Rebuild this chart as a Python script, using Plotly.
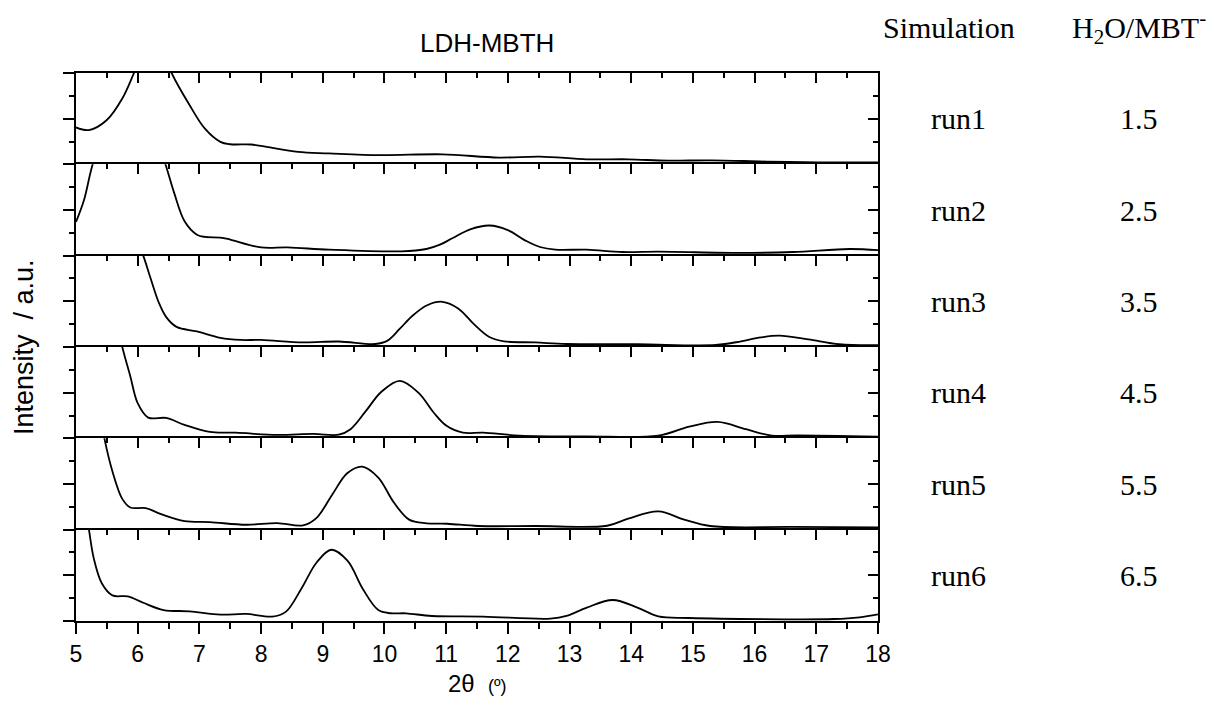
import plotly.graph_objects as go

# ---------------- data ----------------
runs = ["run1", "run2", "run3", "run4", "run5", "run6"]
ratios = ["1.5", "2.5", "3.5", "4.5", "5.5", "6.5"]
x_ticks = [5, 6, 7, 8, 9, 10, 11, 12, 13, 14, 15, 16, 17, 18]

x_run1 = [5.0, 5.21, 5.5, 5.75, 5.94, 6.25, 6.55, 6.84, 7.09, 7.34, 7.5, 7.84, 8.09, 8.6, 9.1,
          9.93, 10.94, 11.86, 12.52, 13.28, 13.95, 14.6, 15.3, 16.2, 17.04, 18.0]
y_run1 = [0.404, 0.375, 0.485, 0.72, 1.0, 1.5, 1.0, 0.65, 0.39, 0.246, 0.22, 0.217, 0.19, 0.136, 0.12,
          0.10, 0.11, 0.074, 0.085, 0.055, 0.055, 0.04, 0.044, 0.03, 0.022, 0.02]

x_run2 = [5.0, 5.13, 5.27, 5.85, 6.45, 6.59, 6.76, 6.96, 7.09, 7.34, 7.5, 8.0, 8.43, 9.1, 10.27,
          10.68, 10.9, 11.1, 11.4, 11.7, 12.0, 12.3, 12.52, 12.77, 13.28, 13.86, 14.44, 15.78,
          16.62, 17.54, 18.0]
y_run2 = [0.37, 0.61, 1.0, 2.2, 1.0, 0.69, 0.377, 0.23, 0.205, 0.198, 0.176, 0.09, 0.09, 0.066, 0.048,
          0.073, 0.12, 0.19, 0.29, 0.33, 0.28, 0.16, 0.095, 0.066, 0.066, 0.04, 0.044, 0.03,
          0.04, 0.073, 0.06]

x_run3 = [5.0, 5.5, 5.8, 6.09, 6.21, 6.34, 6.46, 6.63, 6.96, 7.34, 7.67, 8.0, 8.68, 9.26, 9.85,
          10.05, 10.25, 10.45, 10.7, 10.94, 11.2, 11.45, 11.7, 11.94, 12.44, 12.95, 14.1, 15.37,
          15.78, 16.1, 16.4, 16.87, 17.37, 18.0]
y_run3 = [4.0, 2.5, 1.5, 1.0, 0.75, 0.49, 0.33, 0.22, 0.17, 0.10, 0.077, 0.077, 0.05, 0.06, 0.033,
          0.07, 0.2, 0.34, 0.46, 0.495, 0.42, 0.25, 0.11, 0.062, 0.05, 0.033, 0.03, 0.022,
          0.062, 0.105, 0.125, 0.084, 0.03, 0.02]

x_run4 = [5.0, 5.4, 5.75, 5.88, 6.0, 6.17, 6.46, 6.76, 7.17, 7.59, 8.26, 8.85, 9.26, 9.45, 9.7,
          9.95, 10.25, 10.55, 10.8, 11.0, 11.27, 11.6, 12.19, 13.28, 14.44, 14.94, 15.4, 15.86,
          16.28, 16.7, 18.0]
y_run4 = [3.5, 2.0, 1.0, 0.68, 0.385, 0.227, 0.223, 0.147, 0.07, 0.062, 0.037, 0.048, 0.04, 0.1, 0.3,
          0.51, 0.63, 0.5, 0.28, 0.14, 0.062, 0.062, 0.03, 0.022, 0.03, 0.128, 0.18, 0.1,
          0.03, 0.033, 0.018]

x_run5 = [5.0, 5.2, 5.46, 5.59, 5.75, 5.88, 6.13, 6.38, 6.76, 7.17, 7.76, 8.26, 8.68, 8.9, 9.15,
          9.4, 9.64, 9.9, 10.15, 10.4, 10.68, 11.02, 11.52, 12.44, 13.61, 13.95, 14.44, 14.86,
          15.28, 16.62, 18.0]
y_run5 = [3.0, 2.0, 1.0, 0.64, 0.337, 0.243, 0.236, 0.17, 0.094, 0.083, 0.054, 0.072, 0.047, 0.13, 0.38,
          0.62, 0.69, 0.57, 0.3, 0.11, 0.07, 0.065, 0.04, 0.04, 0.043, 0.12, 0.2, 0.11,
          0.04, 0.03, 0.025]

x_run6 = [5.0, 5.21, 5.29, 5.42, 5.59, 5.84, 6.09, 6.42, 6.84, 7.34, 7.76, 8.18, 8.4, 8.65, 8.9,
          9.14, 9.4, 9.65, 9.9, 10.1, 10.35, 10.77, 11.6, 12.69, 12.95, 13.28, 13.7, 14.1, 14.44,
          14.94, 17.29, 17.7, 18.0]
y_run6 = [2.0, 1.0, 0.68, 0.41, 0.28, 0.27, 0.2, 0.12, 0.106, 0.07, 0.077, 0.048, 0.1, 0.35, 0.64,
          0.78, 0.66, 0.35, 0.12, 0.085, 0.084, 0.055, 0.048, 0.026, 0.055, 0.147, 0.23, 0.147, 0.05,
          0.033, 0.022, 0.04, 0.073]

xs = [x_run1, x_run2, x_run3, x_run4, x_run5, x_run6]
ys = [y_run1, y_run2, y_run3, y_run4, y_run5, y_run6]

# ---------------- layout helpers ----------------
W, H = 1212, 702
L, R, T, B = 76, 878, 73, 621
N = 6


def px(xp):
    return (xp - L) / (R - L)


def py(yp):
    return (B - yp) / (B - T)


SANS = "Liberation Sans, Arial, sans-serif"
SERIF = "Liberation Serif, Times New Roman, serif"

fig = go.Figure()
layout = dict(
    width=W, height=H,
    margin=dict(l=L, r=W - R, t=T, b=H - B, pad=0),
    paper_bgcolor="white", plot_bgcolor="white",
    showlegend=False,
    font=dict(family=SANS, color="black", size=20),
)

LW = 2
for i in range(N):
    k = i + 1
    d0 = 1 - (i + 1) / N
    d1 = 1 - i / N
    fig.add_trace(go.Scatter(
        x=xs[i], y=ys[i], mode="lines",
        line=dict(color="black", width=1.8, shape="spline", smoothing=1.0),
        xaxis=f"x{k}", yaxis=f"y{k}", hoverinfo="skip"))
    # helper (empty) trace for the right-hand inward ticks
    fig.add_trace(go.Scatter(x=[], y=[], xaxis=f"x{k}", yaxis=f"y{k + N}"))

    xa = dict(range=[5, 18], domain=[0, 1], anchor=f"y{k}", showgrid=False, zeroline=False,
              showline=True, linecolor="black", linewidth=LW, mirror=False,
              tickmode="array", tickvals=x_ticks, ticktext=[str(v) for v in x_ticks],
              tickcolor="black", tickwidth=2)
    if k < N:
        xa.update(side="top", ticks="inside", ticklen=10, showticklabels=False,
                  minor=dict(ticks="inside", ticklen=5, dtick=0.5, tick0=5, tickwidth=2,
                             tickcolor="black", showgrid=False))
    else:
        xa.update(side="bottom", ticks="outside", ticklen=11, showticklabels=True,
                  tickfont=dict(family=SANS, size=23),
                  minor=dict(ticks="outside", ticklen=6, dtick=0.5, tick0=5, tickwidth=2,
                             tickcolor="black", showgrid=False))
    layout[f"xaxis{k}"] = xa

    layout[f"yaxis{k}"] = dict(
        range=[0, 1], domain=[d0, d1], anchor=f"x{k}", side="left",
        showgrid=False, zeroline=False, showline=True, linecolor="black", linewidth=LW,
        mirror=True, ticks="outside", ticklen=11, tickwidth=2, tickcolor="black",
        dtick=0.5, tick0=0, showticklabels=False,
        minor=dict(ticks="outside", ticklen=5, dtick=0.25, tick0=0, tickwidth=2,
                   tickcolor="black", showgrid=False))
    layout[f"yaxis{k + N}"] = dict(
        range=[0, 1], overlaying=f"y{k}", anchor=f"x{k}", side="right",
        showgrid=False, zeroline=False, showline=False,
        ticks="inside", ticklen=10, tickwidth=2, tickcolor="black",
        dtick=0.5, tick0=0, showticklabels=False,
        minor=dict(ticks="inside", ticklen=5, dtick=0.25, tick0=0, tickwidth=2,
                   tickcolor="black", showgrid=False))

# top edge (with inward ticks) of the bottom panel
fig.add_trace(go.Scatter(x=[], y=[], xaxis=f"x{N + 1}", yaxis=f"y{N}"))
layout[f"xaxis{N + 1}"] = dict(
    range=[5, 18], overlaying=f"x{N}", anchor=f"y{N}", side="top",
    showgrid=False, zeroline=False, showline=True, linecolor="black", linewidth=LW,
    showticklabels=False, tickmode="array", tickvals=x_ticks,
    ticks="inside", ticklen=10, tickwidth=2, tickcolor="black",
    minor=dict(ticks="inside", ticklen=5, dtick=0.5, tick0=5, tickwidth=2,
               tickcolor="black", showgrid=False))


def label(text, xp, yp, family, size, angle=0):
    return dict(text=text, x=px(xp), y=py(yp), xref="paper", yref="paper",
                xanchor="center", yanchor="middle", textangle=angle,
                showarrow=False, font=dict(family=family, size=size, color="black"))


ann = [
    label("LDH-MBTH", 487, 43, SANS, 26),
    label("Simulation", 949, 28, SERIF, 30),
    label("H<sub>2</sub>O/MBT<sup>-</sup>", 1139, 28, SERIF, 30),
]
ph = (B - T) / N
for i in range(N):
    yc = T + ph * (i + 0.5)
    ann.append(label(runs[i], 958, yc, SERIF, 30))
    ann.append(label(ratios[i], 1139, yc, SERIF, 30))
ann.append(label("Intensity  / a.u.", 24, 347, SANS, 27, angle=-90))
ann.append(label("2θ  <span style='font-size:18px'>(º)</span>", 477, 683, SANS, 24))
layout["annotations"] = ann

fig.update_layout(**layout)
fig.write_html("out.html")
